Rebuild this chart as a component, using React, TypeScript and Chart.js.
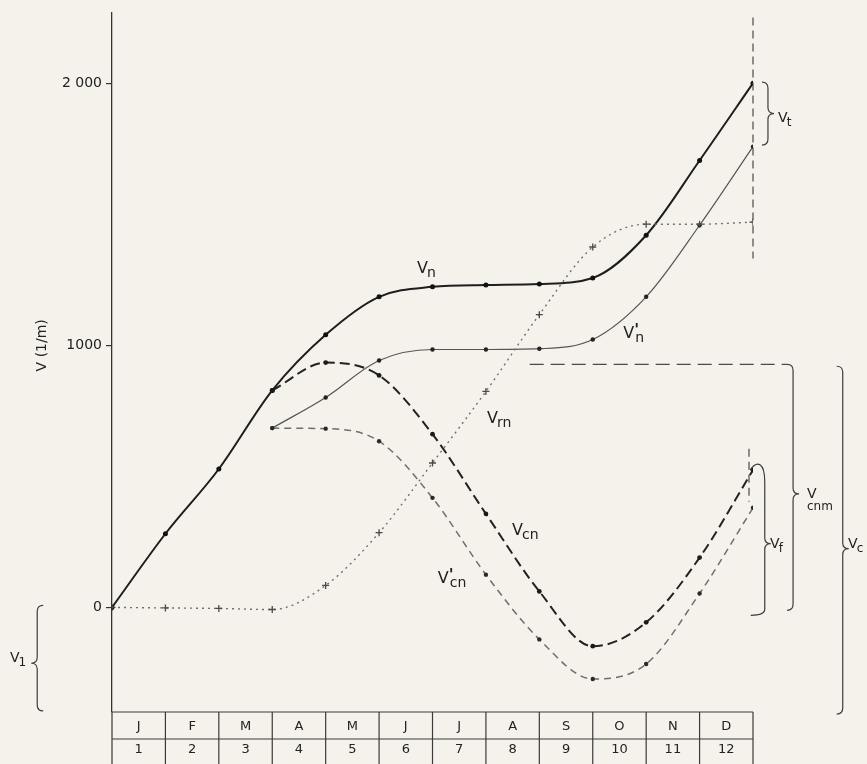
import React, { useEffect, useRef } from 'react';
import { Chart, registerables } from 'chart.js';

Chart.register(...registerables);

// ---- data ----
const MONTH_INDEX = [0, 1, 2, 3, 4, 5, 6, 7, 8, 9, 10, 11, 12];
const MONTH_LETTERS = ['J', 'F', 'M', 'A', 'M', 'J', 'J', 'A', 'S', 'O', 'N', 'D'];
const MONTH_NUMBERS = ['1', '2', '3', '4', '5', '6', '7', '8', '9', '10', '11', '12'];

const V_N = [0, 281, 528, 828, 1040, 1185, 1223, 1230, 1234, 1257, 1420, 1705, 2000];
const V_N_PRIME = [null, null, null, 684, 801, 942, 984, 984, 987, 1022, 1185, 1458, 1758];
const V_CN = [null, null, null, 828, 934, 885, 661, 357, 61, -148, -57, 190, 524];
const V_CN_PRIME = [null, null, null, 684, 682, 634, 418, 125, -122, -273, -216, 53, 380];
const V_RN = [0, -2, -4, -8, 84, 285, 551, 824, 1117, 1375, 1462, 1462, 1470];

const Y_TICKS = [0, 1000, 2000];
const Y_TICK_LABELS = ['0', '1000', '2 000'];
const Y_TITLE = 'V (1/m)';

// annotation levels (data units)
const V_CNM_LEVEL = 927;
const REF_LINE_FROM = 7.82;
const REF_LINE_TO = 12.75;
const VERT_LINE_TOP = 2251;
const VERT_LINE_BOTTOM = 1331;
const VERT_SHORT_TOP = 605;
const VERT_SHORT_BOTTOM = 403;

// braces: x (months), top, bottom, tip (values), dir (+1 right / -1 left)
const BRACES = [
  { name: 't', x: 12.28, top: 2004, bottom: 1764, tip: 1884, dir: 1 },
  { name: 'cnm', x: 12.75, top: V_CNM_LEVEL, bottom: -11, tip: 433, dir: 1 },
  { name: 'c', x: 13.68, top: 920, bottom: -407, tip: 224, dir: 1 },
  { name: '1', x: -1.4, top: 8, bottom: -395, tip: -213, dir: -1 },
];
const BRACE_F = { x: 12.22, bottom: -30, tip: 243 };

// labels: sub, prime, x (months), y (values, baseline)
const LABELS = [
  { sub: 'n', prime: false, x: 5.71, y: 1274, size: 16, below: false },
  { sub: 'n', prime: true, x: 9.57, y: 1027, size: 16, below: false },
  { sub: 'rn', prime: false, x: 7.02, y: 703, size: 16, below: false },
  { sub: 'cn', prime: false, x: 7.49, y: 278, size: 16, below: false },
  { sub: 'cn', prime: true, x: 6.1, y: 95, size: 16, below: false },
  { sub: 't', prime: false, x: 12.47, y: 1852, size: 14, below: false },
  { sub: 'f', prime: false, x: 12.32, y: 228, size: 14, below: false },
  { sub: 'cnm', prime: false, x: 13.01, y: 418, size: 14, below: true },
  { sub: 'c', prime: false, x: 13.78, y: 228, size: 14, below: false },
  { sub: '1', prime: false, x: -1.91, y: -209, size: 14, below: false },
];

const FONT = '"DejaVu Sans", "Liberation Sans", sans-serif';
const INK = '#222222';
const BG = '#f5f2ec';

const pts = (arr: (number | null)[]) => MONTH_INDEX.map((m, i) => ({ x: m, y: arr[i] }));

export default function App() {
  const ref = useRef<HTMLCanvasElement>(null);

  useEffect(() => {
    const canvas = ref.current!;

    const bgPlugin = {
      id: 'bg',
      beforeDraw(chart: any) {
        const { ctx, width, height } = chart;
        ctx.save();
        ctx.fillStyle = BG;
        ctx.fillRect(0, 0, width, height);
        ctx.restore();
      },
    };

    const overlay = {
      id: 'overlay',
      afterDraw(chart: any) {
        const { ctx, chartArea, scales, height } = chart;
        const xs = scales.x;
        const ys = scales.y;
        const X = (v: number) => xs.getPixelForValue(v);
        const Y = (v: number) => ys.getPixelForValue(v);
        ctx.save();

        // --- month table ---
        const tTop = chartArea.bottom;
        const tMid = tTop + 27;
        const tBot = height;
        ctx.strokeStyle = '#3a3a3a';
        ctx.lineWidth = 1.2;
        ctx.beginPath();
        ctx.moveTo(X(0), tTop);
        ctx.lineTo(X(12), tTop);
        ctx.moveTo(X(0), tMid);
        ctx.lineTo(X(12), tMid);
        for (let i = 0; i <= 12; i++) {
          ctx.moveTo(X(i), tTop);
          ctx.lineTo(X(i), tBot);
        }
        ctx.stroke();
        ctx.fillStyle = INK;
        ctx.textAlign = 'center';
        ctx.textBaseline = 'middle';
        ctx.font = `13px ${FONT}`;
        for (let i = 0; i < 12; i++) {
          const cx = (X(i) + X(i + 1)) / 2;
          ctx.fillText(MONTH_LETTERS[i], cx, (tTop + tMid) / 2 + 1);
          ctx.fillText(MONTH_NUMBERS[i], cx, tMid + 11);
        }

        // --- y title ---
        ctx.save();
        ctx.translate(42, Y(1000));
        ctx.rotate(-Math.PI / 2);
        ctx.font = `14px ${FONT}`;
        ctx.textAlign = 'center';
        ctx.textBaseline = 'middle';
        ctx.fillText(Y_TITLE, 0, 0);
        ctx.restore();

        // --- reference dashed lines ---
        ctx.strokeStyle = '#4a4a4a';
        ctx.lineWidth = 1.2;
        ctx.setLineDash([14, 7]);
        ctx.beginPath();
        ctx.moveTo(X(REF_LINE_FROM), Y(V_CNM_LEVEL));
        ctx.lineTo(X(REF_LINE_TO) - 6, Y(V_CNM_LEVEL));
        ctx.stroke();
        ctx.setLineDash([8, 5]);
        ctx.beginPath();
        ctx.moveTo(X(12), Y(VERT_LINE_TOP));
        ctx.lineTo(X(12), Y(VERT_LINE_BOTTOM));
        ctx.moveTo(X(12) - 4, Y(VERT_SHORT_TOP));
        ctx.lineTo(X(12) - 4, Y(VERT_SHORT_BOTTOM));
        ctx.stroke();
        ctx.setLineDash([]);

        // --- braces ---
        ctx.strokeStyle = '#3c3c3c';
        ctx.lineWidth = 1.2;
        const w = 6;
        for (const b of BRACES) {
          const x = X(b.x);
          const y1 = Y(b.top);
          const y2 = Y(b.bottom);
          const yt = Y(b.tip);
          const d = b.dir;
          ctx.beginPath();
          ctx.moveTo(x - d * w, y1);
          ctx.quadraticCurveTo(x, y1, x, y1 + w);
          ctx.lineTo(x, yt - w);
          ctx.quadraticCurveTo(x, yt, x + d * w, yt);
          ctx.quadraticCurveTo(x, yt, x, yt + w);
          ctx.lineTo(x, y2 - w);
          ctx.quadraticCurveTo(x, y2, x - d * w, y2);
          ctx.stroke();
        }
        {
          const px = X(12);
          const py = Y(V_CN[12] as number);
          const x = X(BRACE_F.x);
          const y2 = Y(BRACE_F.bottom);
          const yt = Y(BRACE_F.tip);
          ctx.beginPath();
          ctx.moveTo(px - 3, py);
          ctx.bezierCurveTo(px + 4, py - 10, x, py - 8, x, py + 12);
          ctx.lineTo(x, yt - w);
          ctx.quadraticCurveTo(x, yt, x + w, yt);
          ctx.quadraticCurveTo(x, yt, x, yt + w);
          ctx.lineTo(x, y2 - w);
          ctx.quadraticCurveTo(x, y2, x - w - 8, y2);
          ctx.stroke();
        }

        // --- labels ---
        ctx.fillStyle = INK;
        ctx.textAlign = 'left';
        ctx.textBaseline = 'alphabetic';
        for (const l of LABELS) {
          const x = X(l.x);
          const y = Y(l.y);
          ctx.font = `${l.size}px ${FONT}`;
          ctx.fillText('V', x, y);
          const vw = ctx.measureText('V').width;
          if (l.prime) {
            ctx.font = `bold ${l.size}px ${FONT}`;
            ctx.fillText("'", x + vw, y - 3);
          }
          ctx.font = `${l.size - 2}px ${FONT}`;
          if (l.below) ctx.fillText(l.sub, x, y + 12);
          else ctx.fillText(l.sub, x + vw - 1 + (l.prime ? 2 : 0), y + 4);
        }

        ctx.restore();
      },
    };

    const chart = new Chart(canvas, {
      type: 'line',
      data: {
        datasets: [
          {
            label: 'Vrn',
            data: pts(V_RN),
            borderColor: '#707070',
            borderWidth: 1.4,
            borderDash: [2, 4],
            pointStyle: 'cross',
            pointRadius: 3.5,
            pointBorderColor: '#4a4a4a',
            pointBorderWidth: 1.3,
            cubicInterpolationMode: 'monotone',
          },
          {
            label: "V'cn",
            data: pts(V_CN_PRIME),
            borderColor: '#6e6e6e',
            borderWidth: 1.5,
            borderDash: [7, 5],
            pointRadius: 2.2,
            pointBackgroundColor: '#2a2a2a',
            pointBorderWidth: 0,
            cubicInterpolationMode: 'monotone',
          },
          {
            label: 'Vcn',
            data: pts(V_CN),
            borderColor: '#222222',
            borderWidth: 2,
            borderDash: [10, 5],
            pointRadius: 2.4,
            pointBackgroundColor: '#1a1a1a',
            pointBorderWidth: 0,
            cubicInterpolationMode: 'monotone',
          },
          {
            label: "V'n",
            data: pts(V_N_PRIME),
            borderColor: '#555555',
            borderWidth: 1.2,
            pointRadius: 2.2,
            pointBackgroundColor: '#222222',
            pointBorderWidth: 0,
            cubicInterpolationMode: 'monotone',
          },
          {
            label: 'Vn',
            data: pts(V_N),
            borderColor: '#1e1e1e',
            borderWidth: 2,
            pointRadius: 2.5,
            pointBackgroundColor: '#111111',
            pointBorderWidth: 0,
            cubicInterpolationMode: 'monotone',
          },
        ] as any,
      },
      options: {
        responsive: false,
        animation: false,
        events: [],
        layout: { padding: { left: 0, right: 114, top: 10, bottom: 52 } },
        plugins: { legend: { display: false }, tooltip: { enabled: false } },
        font: { family: FONT } as any,
        scales: {
          x: { type: 'linear', min: 0, max: 12, display: false },
          y: {
            type: 'linear',
            min: -399,
            max: 2270,
            afterBuildTicks: (axis: any) => {
              axis.ticks = Y_TICKS.map((v) => ({ value: v }));
            },
            afterFit: (axis: any) => {
              axis.width = 112;
            },
            ticks: {
              color: INK,
              font: { family: FONT, size: 14 },
              padding: 4,
              callback: (v: any) => {
                const i = Y_TICKS.indexOf(Number(v));
                return i >= 0 ? Y_TICK_LABELS[i] : '';
              },
            },
            grid: { drawOnChartArea: false, tickLength: 6, color: '#333', lineWidth: 1.2 },
            border: { display: true, color: '#333', width: 1.3 },
          },
        },
      } as any,
      plugins: [bgPlugin, overlay],
    });

    return () => chart.destroy();
  }, []);

  return (
    <div style={{ position: 'fixed', left: 0, top: 0, width: 867, height: 764, background: BG }}>
      <canvas ref={ref} width={867} height={764} style={{ display: 'block', width: 867, height: 764 }} />
    </div>
  );
}
